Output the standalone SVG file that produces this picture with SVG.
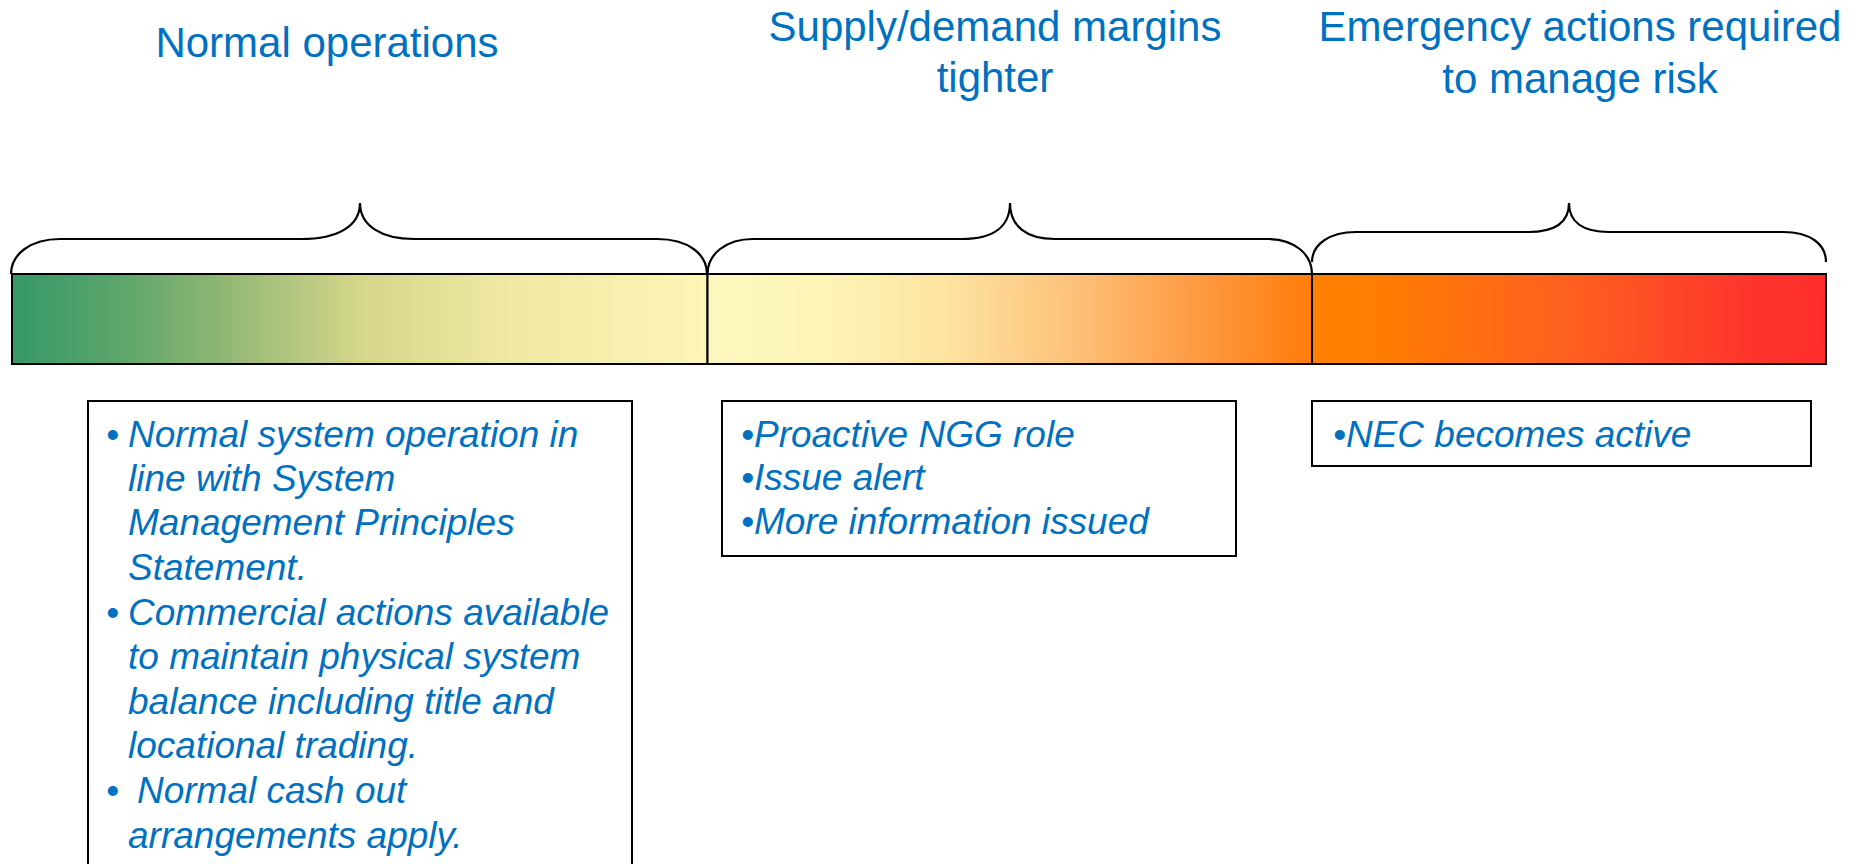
<svg xmlns="http://www.w3.org/2000/svg" width="1858" height="864" viewBox="0 0 1858 864">
<style>
.hdr{font-family:"Liberation Sans",Arial,sans-serif;font-size:42px;fill:#0070C0;text-anchor:middle}
.bt{font-family:"Liberation Sans",Arial,sans-serif;font-size:37px;font-style:italic;fill:#0070C0}
.box{fill:#fff;stroke:#000;stroke-width:2}
.brace{fill:none;stroke:#000;stroke-width:2.2}
.seg{stroke:#000;stroke-width:2}
</style>
<defs>
<linearGradient id="g1" x1="0" y1="0" x2="1" y2="0">
<stop offset="0" stop-color="#359967"/>
<stop offset="0.15" stop-color="#5aa56b"/>
<stop offset="0.3" stop-color="#8fb673"/>
<stop offset="0.5" stop-color="#d4d68a"/>
<stop offset="0.7" stop-color="#eee8a2"/>
<stop offset="1" stop-color="#fdf6b6"/>
</linearGradient>
<linearGradient id="g2" x1="0" y1="0" x2="1" y2="0">
<stop offset="0" stop-color="#fdf8c0"/>
<stop offset="0.2" stop-color="#fdf4b6"/>
<stop offset="0.4" stop-color="#fde3a0"/>
<stop offset="0.6" stop-color="#fec27a"/>
<stop offset="0.8" stop-color="#fe9c45"/>
<stop offset="1" stop-color="#ff7c0a"/>
</linearGradient>
<linearGradient id="g3" x1="0" y1="0" x2="1" y2="0">
<stop offset="0" stop-color="#ff7f00"/>
<stop offset="0.1" stop-color="#ff7f00"/>
<stop offset="0.5" stop-color="#ff6020"/>
<stop offset="0.85" stop-color="#fe352c"/>
<stop offset="1" stop-color="#fd2d2d"/>
</linearGradient>
</defs>

<g id="headers">
<text class="hdr" x="327" y="57">Normal operations</text>
<text class="hdr" x="995" y="41">Supply/demand margins</text>
<text class="hdr" x="995" y="92">tighter</text>
<text class="hdr" x="1580" y="41">Emergency actions required</text>
<text class="hdr" x="1580" y="93">to manage risk</text>
</g>

<g id="bar">
<rect class="seg" x="12" y="274" width="695.5" height="90" fill="url(#g1)"/>
<rect class="seg" x="707.5" y="274" width="604.5" height="90" fill="url(#g2)"/>
<rect class="seg" x="1312" y="274" width="514" height="90" fill="url(#g3)"/>
</g>

<g id="braces">
<path class="brace" d="M 11,274 C 11,254 31,239 60,239 L 301,239 C 338,239 360,226 360,203 C 360,226 382,239 414,239 L 657,239 C 688,239 707,254 707,274"/>
<path class="brace" d="M 707.5,274 C 707.5,254 726,239 753,239 L 962,239 C 994,239 1010,226 1010,203 C 1010,226 1026,239 1055,239 L 1268,239 C 1294,239 1312,254 1312,274"/>
<path class="brace" d="M 1312,262 C 1312,244 1330,232 1356,232 L 1528,232 C 1555,232 1569,222 1569,203 C 1569,222 1583,232 1609,232 L 1783,232 C 1810,232 1826,244 1826,262"/>
</g>

<g id="box-normal">
<rect class="box" x="88" y="401" width="544" height="480"/>
<text class="bt" x="106" y="447">•</text>
<text class="bt" x="128" y="447">Normal system operation in</text>
<text class="bt" x="128" y="491">line with System</text>
<text class="bt" x="128" y="535">Management Principles</text>
<text class="bt" x="128" y="580">Statement.</text>
<text class="bt" x="106" y="625">•</text>
<text class="bt" x="128" y="625">Commercial actions available</text>
<text class="bt" x="128" y="669">to maintain physical system</text>
<text class="bt" x="128" y="714">balance including title and</text>
<text class="bt" x="128" y="758">locational trading.</text>
<text class="bt" x="106" y="803">•</text>
<text class="bt" x="137" y="803">Normal cash out</text>
<text class="bt" x="128" y="848">arrangements apply.</text>
</g>

<g id="box-supply">
<rect class="box" x="722" y="401" width="514" height="155"/>
<text class="bt" x="741" y="447">•Proactive NGG role</text>
<text class="bt" x="741" y="490">•Issue alert</text>
<text class="bt" x="741" y="534">•More information issued</text>
</g>

<g id="box-emergency">
<rect class="box" x="1312" y="401" width="499" height="65"/>
<text class="bt" x="1333" y="447">•NEC becomes active</text>
</g>
</svg>
